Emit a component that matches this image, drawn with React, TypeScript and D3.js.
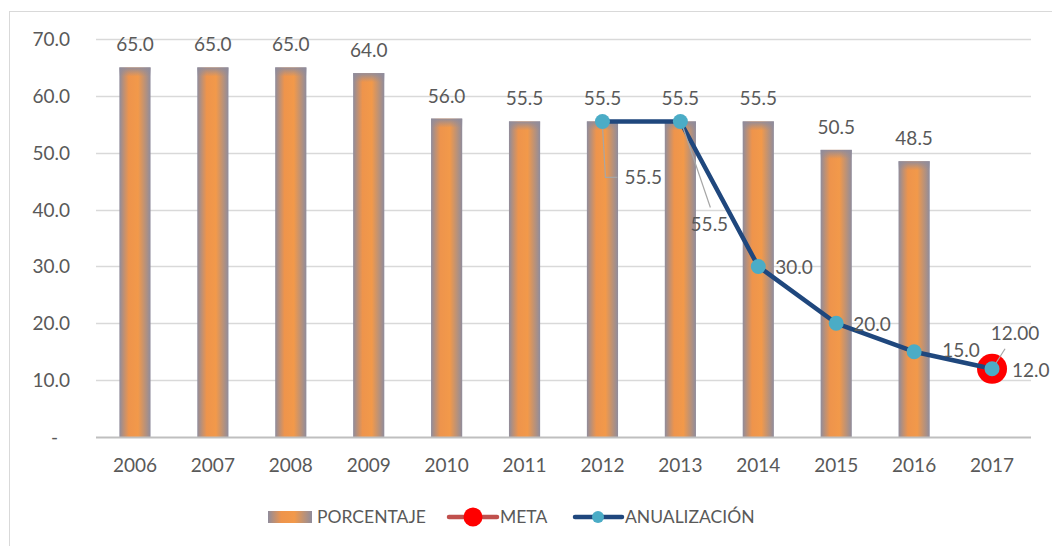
import React, { useRef, useEffect } from "react";
import { select, scaleBand, scaleLinear, line, curveLinear } from "d3";

// chart data
const years = ["2006", "2007", "2008", "2009", "2010", "2011", "2012", "2013", "2014", "2015", "2016", "2017"];
const porcentaje = [65, 65, 65, 64, 56, 55.5, 55.5, 55.5, 55.5, 50.5, 48.5, null];
const anualizacion = [null, null, null, null, null, null, 55.5, 55.5, 30, 20, 15, 12];
const meta = [null, null, null, null, null, null, null, null, null, null, null, 12];
const yTicks = [0, 10, 20, 30, 40, 50, 60, 70];

const W = 1052;
const H = 546;
const FONT = "Lato, 'Open Sans', sans-serif";
const TXT = "#595959";

// where each anualizacion label sits relative to its point: [dx, dy, anchor, leader]
const lineLabelPos: Record<string, [number, number, string, number[][] | null]> = {
    "2012": [22, 63, "start", [[0, 4], [3, 56], [15, 56]]],
    "2013": [29, 110, "middle", [[2, 4], [30, 86]]],
    "2014": [17, 8, "start", null],
    "2015": [17, 8, "start", null],
    "2016": [28, 5, "start", null],
    "2017": [20, 8, "start", null],
};

function App() {
    const svgRef = useRef<SVGSVGElement>(null);

    useEffect(() => {
        const svg = select(svgRef.current);
        svg.selectAll("*").remove();

        const x = scaleBand()
            .domain(years)
            .range([96, 1031])
            .paddingInner(0.6)
            .paddingOuter(0.3);
        const y = scaleLinear().domain([0, 70]).range([437, 39]);
        const cx = (yr: string) => (x(yr) as number) + x.bandwidth() / 2;

        const defs = svg.append("defs");
        const g1 = defs.append("linearGradient").attr("id", "barGrad").attr("x1", 0).attr("x2", 1).attr("y1", 0).attr("y2", 0);
        g1.append("stop").attr("offset", "0%").attr("stop-color", "#8f8c9c");
        g1.append("stop").attr("offset", "30%").attr("stop-color", "#ee944c");
        g1.append("stop").attr("offset", "60%").attr("stop-color", "#f2994a");
        g1.append("stop").attr("offset", "100%").attr("stop-color", "#8f8c9c");
        const g2 = defs.append("linearGradient").attr("id", "topGrad").attr("x1", 0).attr("x2", 0).attr("y1", 0).attr("y2", 1);
        g2.append("stop").attr("offset", "0%").attr("stop-color", "#8f8c9c").attr("stop-opacity", 0.95);
        g2.append("stop").attr("offset", "100%").attr("stop-color", "#8f8c9c").attr("stop-opacity", 0);

        // frame
        svg.append("rect")
            .attr("x", 9.5).attr("y", 11.5).attr("width", 1200).attr("height", 700)
            .attr("fill", "white").attr("stroke", "#d9d9d9");

        // grid + y labels
        svg.append("g").selectAll("line")
            .data(yTicks.filter(t => t > 0))
            .join("line")
            .attr("x1", 96).attr("x2", 1031)
            .attr("y1", d => Math.round(y(d)) + 0.5).attr("y2", d => Math.round(y(d)) + 0.5)
            .attr("stroke", "#d9d9d9").attr("stroke-width", 1.3);

        svg.append("g").selectAll("text")
            .data(yTicks)
            .join("text")
            .attr("x", d => (d === 0 ? 58 : 70))
            .attr("y", d => y(d) + 7)
            .attr("text-anchor", "end")
            .attr("font-family", FONT).attr("font-size", 19).attr("fill", TXT)
            .text(d => (d === 0 ? "-" : d.toFixed(1)));

        // bars
        const barData = years.map((yr, i) => ({ yr, v: porcentaje[i] })).filter(d => d.v != null) as { yr: string; v: number }[];
        const bars = svg.append("g");
        bars.selectAll(".bar")
            .data(barData)
            .join("rect")
            .attr("class", "bar")
            .attr("x", d => x(d.yr) as number)
            .attr("y", d => y(d.v))
            .attr("width", x.bandwidth())
            .attr("height", d => y(0) - y(d.v))
            .attr("fill", "url(#barGrad)");
        bars.selectAll(".bartop")
            .data(barData)
            .join("rect")
            .attr("class", "bartop")
            .attr("x", d => x(d.yr) as number)
            .attr("y", d => y(d.v))
            .attr("width", x.bandwidth())
            .attr("height", 9)
            .attr("fill", "url(#topGrad)");
        bars.selectAll("text")
            .data(barData)
            .join("text")
            .attr("x", d => cx(d.yr))
            .attr("y", d => y(d.v) - 16)
            .attr("text-anchor", "middle")
            .attr("font-family", FONT).attr("font-size", 19).attr("fill", TXT)
            .text(d => d.v.toFixed(1));

        // x axis
        svg.append("line")
            .attr("x1", 96).attr("x2", 1031).attr("y1", 437.5).attr("y2", 437.5)
            .attr("stroke", "#bfbfbf").attr("stroke-width", 2);
        svg.append("g").selectAll("text")
            .data(years)
            .join("text")
            .attr("x", d => cx(d))
            .attr("y", 472)
            .attr("text-anchor", "middle")
            .attr("font-family", FONT).attr("font-size", 19).attr("fill", TXT)
            .text(d => d);

        // meta
        const metaData = years.map((yr, i) => ({ yr, v: meta[i] })).filter(d => d.v != null) as { yr: string; v: number }[];
        svg.append("g").selectAll("circle")
            .data(metaData)
            .join("circle")
            .attr("cx", d => cx(d.yr)).attr("cy", d => y(d.v)).attr("r", 15)
            .attr("fill", "#ff0000");

        // anualizacion
        const anData = years.map((yr, i) => ({ yr, v: anualizacion[i] })).filter(d => d.v != null) as { yr: string; v: number }[];
        const anLine = line<{ yr: string; v: number }>()
            .x(d => cx(d.yr))
            .y(d => y(d.v))
            .curve(curveLinear);
        svg.append("path")
            .attr("d", anLine(anData))
            .attr("fill", "none").attr("stroke", "#1f477d").attr("stroke-width", 4.5)
            .attr("stroke-linejoin", "round");

        // leader lines
        anData.forEach(d => {
            const pos = lineLabelPos[d.yr];
            if (pos && pos[3]) {
                svg.append("polyline")
                    .attr("points", pos[3].map(p => `${cx(d.yr) + p[0]},${y(d.v) + p[1]}`).join(" "))
                    .attr("fill", "none").attr("stroke", "#a6a6a6").attr("stroke-width", 1.2);
            }
        });
        metaData.forEach(d => {
            svg.append("line")
                .attr("x1", cx(d.yr) + 1).attr("y1", y(d.v) - 1)
                .attr("x2", cx(d.yr) + 13).attr("y2", y(d.v) - 20)
                .attr("stroke", "#a6a6a6").attr("stroke-width", 1.2);
        });

        svg.append("g").selectAll("circle")
            .data(anData)
            .join("circle")
            .attr("cx", d => cx(d.yr)).attr("cy", d => y(d.v)).attr("r", 7.5)
            .attr("fill", "#4bacc6");

        svg.append("g").selectAll("text")
            .data(anData)
            .join("text")
            .attr("x", d => cx(d.yr) + lineLabelPos[d.yr][0])
            .attr("y", d => y(d.v) + lineLabelPos[d.yr][1])
            .attr("text-anchor", d => lineLabelPos[d.yr][2])
            .attr("font-family", FONT).attr("font-size", 19).attr("fill", TXT)
            .text(d => d.v.toFixed(1));

        svg.append("g").selectAll("text")
            .data(metaData)
            .join("text")
            .attr("x", d => cx(d.yr) + 23)
            .attr("y", d => y(d.v) - 29)
            .attr("text-anchor", "middle")
            .attr("font-family", FONT).attr("font-size", 19).attr("fill", TXT)
            .text(d => d.v.toFixed(2));

        // legend
        const lg = svg.append("g").attr("font-family", FONT).attr("font-size", 17.5).attr("fill", TXT);
        lg.append("rect").attr("x", 268).attr("y", 511).attr("width", 44).attr("height", 12).attr("fill", "url(#barGrad)");
        lg.append("text").attr("x", 317).attr("y", 523).text("PORCENTAJE");
        lg.append("line").attr("x1", 449).attr("x2", 497).attr("y1", 517).attr("y2", 517)
            .attr("stroke", "#c0504d").attr("stroke-width", 4.5).attr("stroke-linecap", "round");
        lg.append("circle").attr("cx", 473).attr("cy", 517).attr("r", 9.5).attr("fill", "#ff0000");
        lg.append("text").attr("x", 500).attr("y", 523).text("META");
        lg.append("line").attr("x1", 575).attr("x2", 622).attr("y1", 517).attr("y2", 517)
            .attr("stroke", "#1f477d").attr("stroke-width", 4.5).attr("stroke-linecap", "round");
        lg.append("circle").attr("cx", 598).attr("cy", 517).attr("r", 6).attr("fill", "#4bacc6");
        lg.append("text").attr("x", 625).attr("y", 523).text("ANUALIZACIÓN");
    }, []);

    return (
        <svg
            ref={svgRef}
            width={W}
            height={H}
            style={{ position: "absolute", left: 0, top: 0, background: "white" }}
        />
    );
}

export default App;
